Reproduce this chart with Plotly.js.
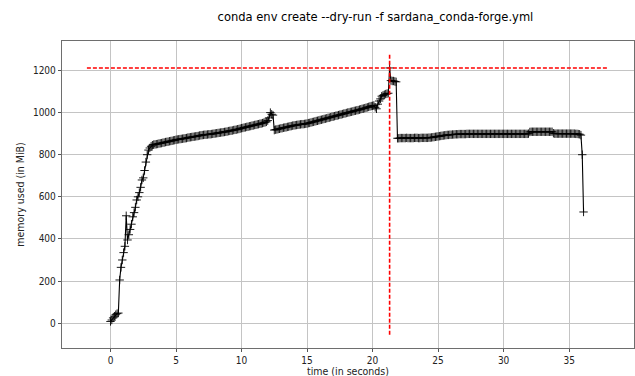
<!DOCTYPE html>
<html>
<head>
<meta charset="utf-8">
<script src="https://cdn.plot.ly/plotly-3.0.1.min.js"></script>
<style>html,body{margin:0;padding:0;background:#fff;}#chart{width:635px;height:376px;}</style>
</head>
<body>
<div id="chart"></div>
<script>
// Sample times (seconds)
const timeSec = [
  0.0,0.1,0.2,0.3,0.4,0.5,0.6,0.7,0.8,0.9,
  1.0,1.1,1.2,1.3,1.4,1.5,1.6,1.7,1.8,1.9,
  2.0,2.1,2.2,2.3,2.4,2.5,2.6,2.7,2.8,2.9,
  3.0,3.1,3.2,3.3,3.4,3.5,3.6,3.7,3.8,3.9,
  4.0,4.1,4.2,4.3,4.4,4.5,4.6,4.7,4.8,4.9,
  5.0,5.1,5.2,5.3,5.4,5.5,5.6,5.7,5.8,5.9,
  6.0,6.1,6.2,6.3,6.4,6.5,6.6,6.7,6.8,6.9,
  7.0,7.1,7.2,7.3,7.4,7.5,7.6,7.7,7.8,7.9,
  8.0,8.1,8.2,8.3,8.4,8.5,8.6,8.7,8.8,8.9,
  9.0,9.1,9.2,9.3,9.4,9.5,9.6,9.7,9.8,9.9,
  10.0,10.1,10.2,10.3,10.4,10.5,10.6,10.7,10.8,10.9,
  11.0,11.1,11.2,11.3,11.4,11.5,11.6,11.7,11.8,11.9,
  12.0,12.1,12.2,12.3,12.4,12.5,12.6,12.7,12.8,12.9,
  13.0,13.1,13.2,13.3,13.4,13.5,13.6,13.7,13.8,13.9,
  14.0,14.1,14.2,14.3,14.4,14.5,14.6,14.7,14.8,14.9,
  15.0,15.1,15.2,15.3,15.4,15.5,15.6,15.7,15.8,15.9,
  16.0,16.1,16.2,16.3,16.4,16.5,16.6,16.7,16.8,16.9,
  17.0,17.1,17.2,17.3,17.4,17.5,17.6,17.7,17.8,17.9,
  18.0,18.1,18.2,18.3,18.4,18.5,18.6,18.7,18.8,18.9,
  19.0,19.1,19.2,19.3,19.4,19.5,19.6,19.7,19.8,19.9,
  20.0,20.1,20.2,20.3,20.4,20.5,20.6,20.7,20.8,20.9,
  21.0,21.1,21.2,21.3,21.4,21.5,21.6,21.7,21.8,21.9,
  22.0,22.1,22.2,22.3,22.4,22.5,22.6,22.7,22.8,22.9,
  23.0,23.1,23.2,23.3,23.4,23.5,23.6,23.7,23.8,23.9,
  24.0,24.1,24.2,24.3,24.4,24.5,24.6,24.7,24.8,24.9,
  25.0,25.1,25.2,25.3,25.4,25.5,25.6,25.7,25.8,25.9,
  26.0,26.1,26.2,26.3,26.4,26.5,26.6,26.7,26.8,26.9,
  27.0,27.1,27.2,27.3,27.4,27.5,27.6,27.7,27.8,27.9,
  28.0,28.1,28.2,28.3,28.4,28.5,28.6,28.7,28.8,28.9,
  29.0,29.1,29.2,29.3,29.4,29.5,29.6,29.7,29.8,29.9,
  30.0,30.1,30.2,30.3,30.4,30.5,30.6,30.7,30.8,30.9,
  31.0,31.1,31.2,31.3,31.4,31.5,31.6,31.7,31.8,31.9,
  32.0,32.1,32.2,32.3,32.4,32.5,32.6,32.7,32.8,32.9,
  33.0,33.1,33.2,33.3,33.4,33.5,33.6,33.7,33.8,33.9,
  34.0,34.1,34.2,34.3,34.4,34.5,34.6,34.7,34.8,34.9,
  35.0,35.1,35.2,35.3,35.4,35.5,35.6,35.7,35.8,35.9,
  36.0,36.1
];
// Memory used (MiB)
const memoryMiB = [
  8,15,25,33,40,45,48,205,265,300,
  335,365,510,395,420,445,470,505,525,550,
  585,600,620,645,680,690,725,765,800,822,
  832,840,845,848,849,850,851,853,854,855,
  857,858,860,861,862,864,865,866,868,869,
  871,872,873,874,875,876,877,878,879,881,
  882,883,884,885,886,887,888,889,891,892,
  893,894,895,895,896,897,897,898,899,900,
  901,902,903,904,905,906,907,908,909,910,
  912,913,914,915,917,918,919,921,922,924,
  926,927,929,930,932,933,935,936,938,939,
  941,942,944,945,947,948,950,952,954,956,
  962,975,1000,992,988,917,919,920,922,923,
  925,926,928,929,930,932,933,935,936,938,
  939,940,941,942,943,944,945,945,946,947,
  948,950,951,953,955,956,958,960,961,963,
  965,966,968,970,971,973,975,976,978,980,
  981,983,985,986,988,990,991,993,995,996,
  998,1000,1001,1003,1004,1006,1008,1009,1011,1012,
  1014,1016,1018,1019,1021,1023,1025,1027,1029,1031,
  1032,1034,1025,1018,1040,1055,1065,1078,1082,1085,
  1088,1090,1092,1212,1152,1150,1150,1148,1146,878,
  878,879,879,879,879,879,880,879,879,879,
  879,879,880,880,880,879,879,880,880,880,
  880,880,880,881,881,882,883,884,885,886,
  887,888,889,890,891,892,893,894,894,895,
  895,896,896,897,897,897,898,898,898,898,
  898,898,899,899,899,899,899,899,899,899,
  899,899,899,899,899,899,899,899,899,899,
  899,899,899,899,899,899,899,899,899,899,
  899,899,899,899,899,899,899,899,899,899,
  899,899,899,899,899,899,899,899,899,900,
  908,909,909,909,909,909,909,909,909,909,
  909,909,909,909,909,909,909,909,902,900,
  900,900,900,900,900,900,900,900,900,900,
  900,900,900,900,900,899,899,898,897,893,
  800,528
];
// Peak markers
const peakLineX = [-1.8, 38.0];
const peakLineY = [1212, 1212];
const peakTimeX = [21.3, 21.3];
const peakTimeY = [-55, 1275];
const xTicks = [0, 5, 10, 15, 20, 25, 30, 35];
const yTicks = [0, 200, 400, 600, 800, 1000, 1200];

const FONT = '"DejaVu Sans Condensed", "Liberation Sans Narrow", "DejaVu Sans", sans-serif';

const traces = [
  {
    x: timeSec, y: memoryMiB, type: 'scatter', mode: 'lines+markers',
    line: {color: '#000000', width: 1.1},
    marker: {symbol: 'cross-thin', size: 6, line: {color: '#000000', width: 0.9}},
    hoverinfo: 'none'
  },
  {
    x: peakLineX, y: peakLineY, type: 'scatter', mode: 'lines',
    line: {color: '#ff0000', width: 1.6, dash: '4px,2px'}, hoverinfo: 'none'
  },
  {
    x: peakTimeX, y: peakTimeY, type: 'scatter', mode: 'lines',
    line: {color: '#ff0000', width: 1.6, dash: '4px,2px'}, hoverinfo: 'none'
  }
];

const axisCommon = {
  showgrid: true, gridcolor: '#c4c4c4', gridwidth: 1,
  zeroline: false, showline: true, linecolor: '#6e6e6e', linewidth: 1.2, mirror: true,
  ticks: 'outside', ticklen: 3, tickcolor: '#555', tickwidth: 1,
  tickfont: {family: FONT, size: 10, color: '#222'}
};

const layout = {
  width: 635, height: 376,
  margin: {l: 62, r: 1, t: 41, b: 28},
  paper_bgcolor: '#ffffff', plot_bgcolor: '#ffffff',
  showlegend: false,
  title: {
    text: 'conda env create --dry-run -f sardana_conda-forge.yml',
    font: {family: FONT, size: 12.8, color: '#000'},
    x: 0.548, xanchor: 'center', xref: 'paper',
    y: 0.955, yanchor: 'middle', yref: 'container'
  },
  xaxis: Object.assign({}, axisCommon, {
    range: [-3.7, 39.95], tickvals: xTicks, ticktext: xTicks.map(String)
  }),
  yaxis: Object.assign({}, axisCommon, {
    range: [-118, 1340], tickvals: yTicks, ticktext: yTicks.map(String),
    title: {text: 'memory used (in MiB)', font: {family: FONT, size: 10.5, color: '#222'}, standoff: 6}
  }),
  annotations: [{
    text: 'time (in seconds)', xref: 'paper', yref: 'paper', x: 0.5, y: 0,
    xanchor: 'center', yanchor: 'top', yshift: -15, showarrow: false,
    font: {family: FONT, size: 10.5, color: '#222'}
  }]
};

Plotly.newPlot('chart', traces, layout, {staticPlot: true, displayModeBar: false});
</script>
</body>
</html>
